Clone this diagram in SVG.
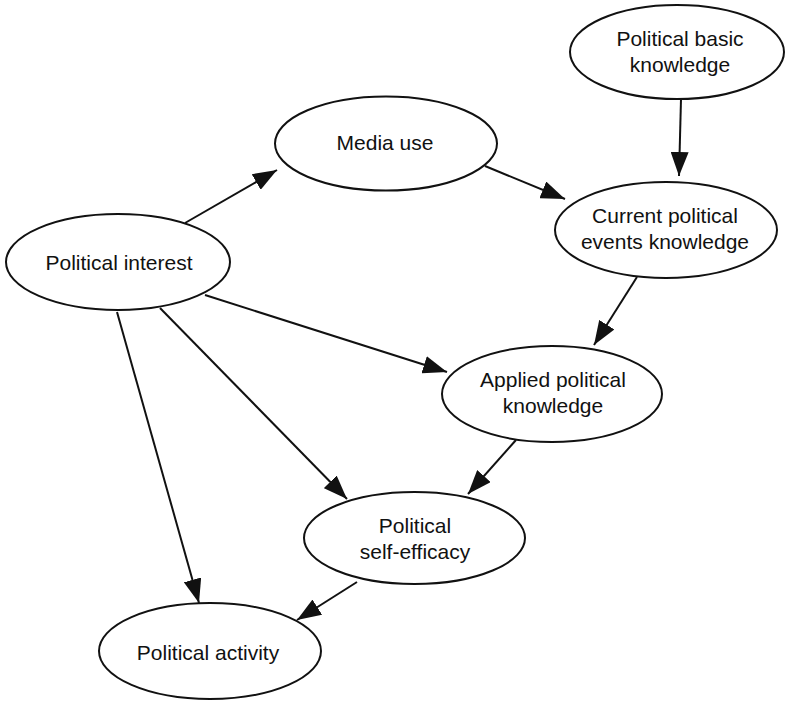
<svg xmlns="http://www.w3.org/2000/svg" width="785" height="702" viewBox="0 0 785 702">
  <style>
    .node ellipse { fill: #ffffff; stroke: #111111; stroke-width: 2; }
    .node text { font-family: "Liberation Sans", Arial, sans-serif; font-size: 21px; fill: #111111; text-anchor: middle; }
    .edge { stroke: #111111; stroke-width: 2; fill: none; marker-end: url(#arrow); }
  </style>
  <defs>
    <marker id="arrow" viewBox="0 0 24 18" refX="24" refY="9" markerWidth="24" markerHeight="18" markerUnits="userSpaceOnUse" orient="auto">
      <path d="M0,0 L24,9 L0,18 z" fill="#111111"/>
    </marker>
  </defs>
  <rect width="785" height="702" fill="#ffffff"/>

  <!-- connectors -->
  <g id="connectors">
    <line class="edge" x1="185" y1="223" x2="277" y2="170"/>
    <line class="edge" x1="485" y1="166" x2="565" y2="199"/>
    <line class="edge" x1="681" y1="99" x2="679" y2="176"/>
    <line class="edge" x1="637" y1="277" x2="594" y2="345"/>
    <line class="edge" x1="205" y1="295" x2="447" y2="372"/>
    <line class="edge" x1="160" y1="308" x2="347" y2="499"/>
    <line class="edge" x1="516" y1="440" x2="468" y2="494"/>
    <line class="edge" x1="117" y1="312" x2="199" y2="603"/>
    <line class="edge" x1="357" y1="582" x2="297" y2="620"/>
  </g>

  <!-- nodes -->
  <g id="basic-knowledge" class="node">
    <ellipse cx="677" cy="52" rx="107" ry="47"/>
    <text x="680" y="46">Political basic</text>
    <text x="680" y="72">knowledge</text>
  </g>
  <g id="media-use" class="node">
    <ellipse cx="386" cy="143.5" rx="111" ry="47"/>
    <text x="385" y="150">Media use</text>
  </g>
  <g id="current-events-knowledge" class="node">
    <ellipse cx="666" cy="230" rx="111" ry="48"/>
    <text x="665" y="223">Current political</text>
    <text x="665" y="249">events knowledge</text>
  </g>
  <g id="political-interest" class="node">
    <ellipse cx="118" cy="262" rx="112" ry="48"/>
    <text x="119" y="270">Political interest</text>
  </g>
  <g id="applied-knowledge" class="node">
    <ellipse cx="552" cy="394" rx="110" ry="48"/>
    <text x="553" y="387">Applied political</text>
    <text x="553" y="413">knowledge</text>
  </g>
  <g id="self-efficacy" class="node">
    <ellipse cx="414.5" cy="538" rx="110.5" ry="46"/>
    <text x="415" y="533">Political</text>
    <text x="415" y="559">self-efficacy</text>
  </g>
  <g id="political-activity" class="node">
    <ellipse cx="210" cy="651" rx="111" ry="48"/>
    <text x="208" y="660">Political activity</text>
  </g>
</svg>
